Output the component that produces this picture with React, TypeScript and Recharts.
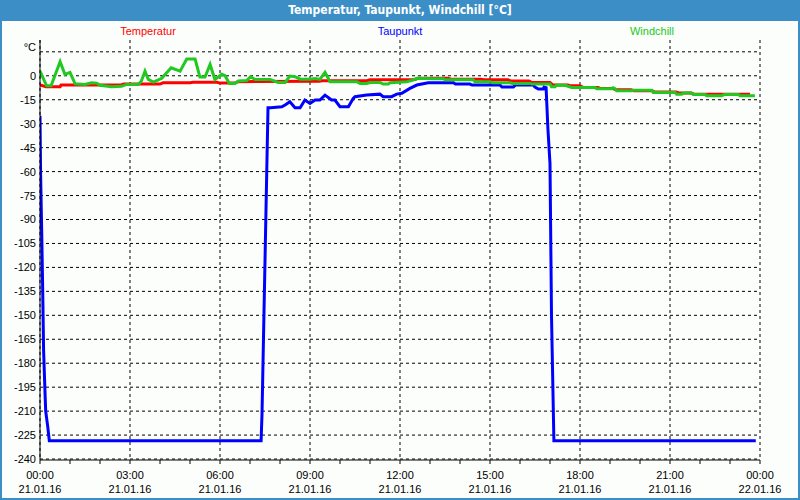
import React from 'react';
import { LineChart, Line, XAxis, YAxis, CartesianGrid } from 'recharts';

// ---- data (hours since 21.01.16 00:00, °C) ----
const tempTimes = [0, 0.2, 0.67, 0.7, 2.7, 2.8, 4.0, 4.1, 5.0, 5.1, 5.9, 6.0, 6.5, 6.6, 9.3, 9.4, 10.9, 11.0, 12.5, 12.6, 13.6, 13.7, 14.7, 14.8, 15.6, 15.7, 16.3, 16.4, 17.0, 17.1, 17.6, 17.7, 18.0, 18.1, 18.6, 18.7, 19.1, 19.2, 19.7, 19.8, 20.4, 20.5, 21.2, 21.3, 21.7, 21.8, 23.67];
const tempValues = [-5.8, -6.9, -6.9, -5.8, -5.8, -5.2, -5.2, -4.4, -4.4, -4.1, -4.1, -4.6, -4.6, -3.7, -3.5, -3.1, -3.1, -2.5, -2.3, -1.6, -1.6, -2.1, -2.1, -2.5, -2.5, -3.3, -3.3, -4.2, -4.2, -5.8, -5.8, -6.3, -6.3, -7.3, -7.3, -8.0, -8.0, -8.8, -8.8, -9.4, -9.4, -10.2, -10.2, -10.8, -10.8, -11.5, -11.5];

const dewTimes = [0, 0.02, 0.057, 0.09, 0.12, 0.17, 0.19, 0.26, 0.31, 7.37, 7.4, 7.6, 7.69, 8.06, 8.17, 8.33, 8.5, 8.67, 8.83, 9.0, 9.17, 9.33, 9.5, 9.72, 9.83, 10.0, 10.28, 10.44, 10.5, 10.89, 11.33, 11.44, 11.72, 11.89, 12.06, 12.33, 12.56, 12.94, 13.78, 13.85, 14.33, 14.4, 15.33, 15.4, 15.78, 15.85, 16.44, 16.5, 16.61, 16.78, 16.8, 16.87, 16.93, 17.0, 17.05, 17.13, 23.86];
const dewValues = [-25, -61, -98, -134, -172, -200, -210, -220, -228.5, -228.5, -212, -20, -20, -19.4, -18.3, -16.3, -20, -20, -15.2, -17.3, -15.2, -15.2, -12.1, -15.2, -15.2, -19.4, -19.4, -14.2, -13.1, -12.1, -11.5, -13.1, -13.1, -11.5, -11, -7.9, -5.8, -4.4, -4.4, -5.2, -5.2, -5.8, -5.8, -7.1, -7.1, -5.8, -5.8, -7.1, -8.3, -8.3, -7.1, -7.5, -33, -55, -150, -228.5, -228.5];

const chillTimes = [0, 0.22, 0.37, 0.67, 0.83, 1.0, 1.17, 1.5, 1.72, 1.89, 2.0, 2.39, 2.72, 2.89, 3.27, 3.37, 3.5, 3.61, 3.78, 4.06, 4.37, 4.67, 4.89, 5.17, 5.33, 5.5, 5.67, 5.83, 6.06, 6.17, 6.31, 6.5, 6.61, 6.89, 7.02, 7.17, 7.67, 7.94, 8.17, 8.33, 8.5, 8.67, 9.0, 9.17, 9.33, 9.5, 9.67, 10.56, 10.67, 10.89, 11.0, 11.33, 11.44, 11.61, 11.67, 12.22, 12.44, 12.56, 13.1, 13.45, 13.5, 14.44, 14.5, 15.0, 15.1, 15.67, 15.75, 16.33, 16.4, 17.0, 17.05, 17.17, 17.22, 17.5, 17.72, 18.5, 18.56, 19.06, 19.1, 19.17, 19.22, 19.72, 19.78, 20.39, 20.44, 21.17, 21.22, 21.39, 21.44, 21.72, 21.78, 22.17, 22.22, 22.72, 22.83, 23.28, 23.33, 23.83];
const chillValues = [2.9, -6.3, -6.3, 8.8, 0.9, 2.1, -5, -5.4, -4.4, -4.6, -6, -6.9, -6.6, -5.4, -5.4, -3.7, 2.9, -2.3, -4, -1.6, 5, 2.9, 10.5, 10.5, -0.8, -0.8, 7.1, -2.3, 0.9, 0, -4.8, -4.8, -3.3, -3, -0.6, -2.3, -2.3, -4.2, -4.2, -0.2, -0.6, -2.1, -2.1, -1.7, -2.3, 2.1, -3.7, -3.7, -4.8, -4.8, -4.2, -4.2, -5.2, -5.2, -4.4, -3.7, -2.7, -1.6, -1.9, -1.9, -2.5, -2.5, -3.7, -3.7, -4.4, -4.4, -4.8, -4.8, -5.2, -5.2, -6.9, -6.9, -5.8, -6, -7.3, -7.3, -8.1, -8.1, -7.5, -8.1, -9.4, -9.4, -9, -9, -10.4, -10.4, -11.5, -11.5, -10.8, -10.8, -11.7, -11.7, -12.5, -12.5, -11.7, -11.7, -12.5, -12.5];

const hourTicks = [0, 1, 2, 3, 4, 5, 6, 7, 8, 9, 10, 11, 12, 13, 14, 15, 16, 17, 18, 19, 20, 21, 22, 23, 24];
const majorHours = [0, 3, 6, 9, 12, 15, 18, 21, 24];
const timeLabels = ['00:00', '03:00', '06:00', '09:00', '12:00', '15:00', '18:00', '21:00', '00:00'];
const dateLabels = ['21.01.16', '21.01.16', '21.01.16', '21.01.16', '21.01.16', '21.01.16', '21.01.16', '21.01.16', '22.01.16'];
const yTicks = [15, 0, -15, -30, -45, -60, -75, -90, -105, -120, -135, -150, -165, -180, -195, -210, -225, -240];
const unitLabel = '°C';
const title = 'Temperatur, Taupunkt, Windchill [°C]';
const seriesNames = ['Temperatur', 'Taupunkt', 'Windchill'];

const tempData = tempTimes.map((t, i) => ({ t, v: tempValues[i] }));
const dewData = dewTimes.map((t, i) => ({ t, v: dewValues[i] }));
const chillData = chillTimes.map((t, i) => ({ t, v: chillValues[i] }));

const FONT = '"Liberation Sans", Arial, sans-serif';
const FRAME = '#3b8fc6';
const BG = '#fcfefc';
const RED = '#ff0000';
const BLUE = '#0000ff';
const GREEN = '#20c820';

const XTick = (props: any) => {
  const { x, y, payload } = props;
  const h = payload.value;
  const idx = majorHours.indexOf(h);
  if (idx < 0) return <g />;
  return (
    <text x={x} y={y} textAnchor="middle" fontFamily={FONT} fontSize={11} fill="#000">
      <tspan x={x} dy={15}>{timeLabels[idx]}</tspan>
      <tspan x={x} dy={14}>{dateLabels[idx]}</tspan>
    </text>
  );
};

const YTick = (props: any) => {
  const { x, y, payload } = props;
  const v = payload.value;
  const label = v === 15 ? unitLabel : String(v);
  return (
    <text x={x} y={v === 15 ? y - 5 : y} dy="0.36em" textAnchor="end" fontFamily={FONT} fontSize={11} fill="#000">
      {label}
    </text>
  );
};

export default function App() {
  const labelCenters = [148, 400, 652];
  const labelColors = [RED, BLUE, GREEN];
  return (
    <div style={{ position: 'fixed', left: 0, top: 0, width: 800, height: 500, background: BG, fontFamily: FONT }}>
      <div style={{ position: 'absolute', left: 0, top: 0 }}>
        <LineChart width={800} height={500} margin={{ top: 40, right: 40, bottom: 0, left: 0 }}>
          <CartesianGrid stroke="#000" strokeDasharray="3 3" verticalValues={majorHours} horizontalValues={yTicks} />
          <XAxis
            dataKey="t"
            type="number"
            domain={[0, 24]}
            ticks={hourTicks}
            allowDataOverflow
            height={40}
            tickSize={4}
            tickMargin={0}
            tick={<XTick />}
            stroke="#000"
            tickLine={{ stroke: '#000' }}
            axisLine={{ stroke: '#000' }}
            interval={0}
          />
          <XAxis xAxisId="top" orientation="top" type="number" domain={[0, 24]} height={0} tick={false} tickLine={false} axisLine={{ stroke: '#000' }} allowDataOverflow />
          <YAxis
            type="number"
            domain={[-240.6, 22.4]}
            ticks={yTicks}
            allowDataOverflow
            width={40}
            tickLine={false}
            tickSize={0}
            tickMargin={4}
            tick={<YTick />}
            axisLine={{ stroke: '#000' }}
            interval={0}
          />
          <YAxis yAxisId="right" orientation="right" type="number" domain={[-240.6, 22.4]} width={0} tick={false} tickLine={false} axisLine={{ stroke: '#000' }} allowDataOverflow />
          <Line data={tempData} dataKey="v" type="linear" stroke={RED} strokeWidth={3} dot={false} isAnimationActive={false} />
          <Line data={dewData} dataKey="v" type="linear" stroke={BLUE} strokeWidth={3} dot={false} isAnimationActive={false} />
          <Line data={chillData} dataKey="v" type="linear" stroke={GREEN} strokeWidth={3} dot={false} isAnimationActive={false} />
        </LineChart>
      </div>
      <div style={{ position: 'absolute', left: 0, top: 0, width: 800, height: 500, boxSizing: 'border-box', borderLeft: `2px solid ${FRAME}`, borderRight: `2px solid ${FRAME}`, borderBottom: `2px solid ${FRAME}`, pointerEvents: 'none' }} />
      <div style={{ position: 'absolute', left: 0, top: 0, width: 800, height: 21, background: FRAME, color: '#fff', textAlign: 'center', lineHeight: '21px', fontSize: 12, fontWeight: 'bold', fontFamily: '"Liberation Sans Narrow", "DejaVu Sans Condensed", "Liberation Sans", sans-serif' }}>
        {title}
      </div>
      {seriesNames.map((n, i) => (
        <div key={n} style={{ position: 'absolute', left: labelCenters[i] - 60, top: 24, width: 120, textAlign: 'center', fontSize: 11, lineHeight: '14px', color: labelColors[i] }}>
          {n}
        </div>
      ))}
    </div>
  );
}
